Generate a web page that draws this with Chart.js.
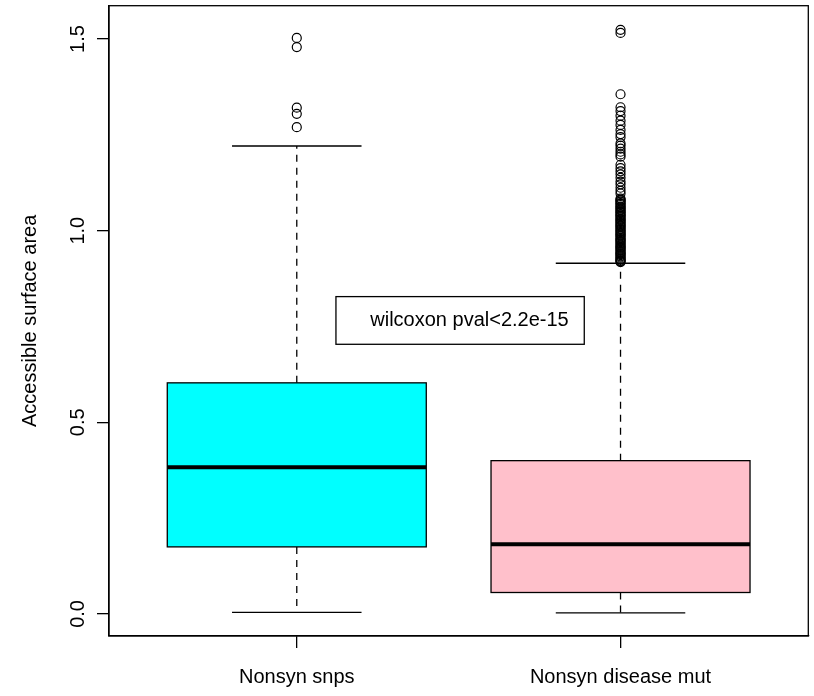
<!DOCTYPE html>
<html>
<head>
<meta charset="utf-8">
<script src="https://cdn.jsdelivr.net/npm/chart.js@4.4.1/dist/chart.umd.min.js"></script>
<style>
  html, body { margin: 0; padding: 0; background: #ffffff; }
  #wrap { width: 814px; height: 696px; }
</style>
</head>
<body>
<div id="wrap"><canvas id="c" width="814" height="696"></canvas></div>
<script>
// Groups and their box statistics
const categories = ['Nonsyn snps', 'Nonsyn disease mut'];
const boxColors = ['#00FFFF', '#FFC0CB'];
const whiskerLow = [0.004, 0.003];
const q1 = [0.175, 0.056];
const median = [0.383, 0.182];
const q3 = [0.603, 0.400];
const whiskerHigh = [1.221, 0.915];

// Points beyond the whiskers
const outliersSnps = [1.503, 1.479, 1.321, 1.305, 1.270];
const outliersDisease = [
  1.524, 1.516, 1.356,
  1.322, 1.312, 1.300, 1.287, 1.276, 1.263, 1.252, 1.244,
  1.228, 1.222, 1.214, 1.206, 1.199, 1.193,
  1.172, 1.163, 1.155, 1.147, 1.138,
  1.128, 1.121, 1.112, 1.104, 1.097,
  1.084, 1.081, 1.079, 1.076, 1.072, 1.070, 1.067, 1.063, 1.061, 1.058,
  1.055, 1.052, 1.049, 1.047, 1.043, 1.040, 1.038, 1.035, 1.031, 1.029,
  1.026, 1.023, 1.020, 1.017, 1.014, 1.011, 1.009, 1.005, 1.002, 0.999,
  0.996, 0.993, 0.990, 0.988, 0.985, 0.981, 0.978, 0.976, 0.973, 0.970,
  0.967, 0.964, 0.961, 0.958, 0.956, 0.953, 0.950, 0.947, 0.944, 0.941,
  0.939, 0.936, 0.933, 0.930, 0.927, 0.925, 0.922, 0.920, 0.918
];

// Axis ticks and texts
const yTicks = [0, 0.5, 1.0, 1.5];
const yTickLabels = ['0.0', '0.5', '1.0', '1.5'];
const yTitle = 'Accessible surface area';
const noteText = 'wilcoxon pval<2.2e-15';

const FONT = '"Liberation Sans", Arial, Helvetica, sans-serif';
const INK = '#000000';

// Box bodies, whiskers, medians, frame, note and rotated y labels
const boxPlot = {
  id: 'boxPlot',
  beforeDatasetsDraw(chart) {
    const { ctx, scales: { x, y } } = chart;
    categories.forEach((_, i) => {
      const c = i + 1;
      const xc = x.getPixelForValue(c);
      const xl = x.getPixelForValue(c - 0.4);
      const xr = x.getPixelForValue(c + 0.4);
      const sl = x.getPixelForValue(c - 0.2);
      const sr = x.getPixelForValue(c + 0.2);
      const yLo = y.getPixelForValue(whiskerLow[i]);
      const yQ1 = y.getPixelForValue(q1[i]);
      const yMed = y.getPixelForValue(median[i]);
      const yQ3 = y.getPixelForValue(q3[i]);
      const yHi = y.getPixelForValue(whiskerHigh[i]);

      ctx.save();
      ctx.strokeStyle = INK;
      ctx.lineWidth = 1.3;

      // dashed whiskers, drawn outward from the hinges
      ctx.setLineDash([7, 6]);
      ctx.beginPath();
      ctx.moveTo(xc, yQ3); ctx.lineTo(xc, yHi);
      ctx.moveTo(xc, yQ1); ctx.lineTo(xc, yLo);
      ctx.stroke();
      ctx.setLineDash([]);

      // staples
      ctx.beginPath();
      ctx.moveTo(sl, yHi); ctx.lineTo(sr, yHi);
      ctx.moveTo(sl, yLo); ctx.lineTo(sr, yLo);
      ctx.stroke();

      // box
      ctx.fillStyle = boxColors[i];
      ctx.fillRect(xl, yQ3, xr - xl, yQ1 - yQ3);
      ctx.strokeRect(xl, yQ3, xr - xl, yQ1 - yQ3);

      // median
      ctx.lineWidth = 4;
      ctx.beginPath();
      ctx.moveTo(xl, yMed); ctx.lineTo(xr, yMed);
      ctx.stroke();
      ctx.restore();
    });
  },
  afterDraw(chart) {
    const { ctx, chartArea: a, scales: { x, y } } = chart;
    ctx.save();
    // frame around the plotting region
    ctx.strokeStyle = INK;
    ctx.lineWidth = 1.3;
    ctx.strokeRect(a.left, a.top, a.right - a.left, a.bottom - a.top);

    // note box
    const nx0 = x.getPixelForValue(1.121), nx1 = x.getPixelForValue(1.888);
    const ny0 = y.getPixelForValue(0.828), ny1 = y.getPixelForValue(0.7036);
    ctx.fillStyle = '#ffffff';
    ctx.fillRect(nx0, ny0, nx1 - nx0, ny1 - ny0);
    ctx.strokeRect(nx0, ny0, nx1 - nx0, ny1 - ny0);
    ctx.fillStyle = INK;
    ctx.font = '20px ' + FONT;
    ctx.textAlign = 'left';
    ctx.textBaseline = 'middle';
    ctx.fillText(noteText, x.getPixelForValue(1.227), (ny0 + ny1) / 2);

    // y tick labels, parallel to the axis
    ctx.textAlign = 'center';
    ctx.textBaseline = 'middle';
    y.ticks.forEach((t, k) => {
      const py = y.getPixelForValue(t.value);
      ctx.save();
      ctx.translate(a.left - 31, py);
      ctx.rotate(-Math.PI / 2);
      ctx.fillText(yTickLabels[k], 0, 0);
      ctx.restore();
    });

    // y axis title
    ctx.save();
    ctx.translate(a.left - 79, (a.top + a.bottom) / 2);
    ctx.rotate(-Math.PI / 2);
    ctx.fillText(yTitle, 0, 0);
    ctx.restore();
    ctx.restore();
  }
};

const pointStyle = {
  pointRadius: 4.5,
  pointHoverRadius: 4.5,
  pointBorderWidth: 1.2,
  pointBackgroundColor: 'rgba(0,0,0,0)',
  pointBorderColor: INK,
  showLine: false
};

new Chart(document.getElementById('c'), {
  type: 'scatter',
  data: {
    datasets: [
      Object.assign({ label: categories[0], data: outliersSnps.map(v => ({ x: 1, y: v })) }, pointStyle),
      Object.assign({ label: categories[1], data: outliersDisease.map(v => ({ x: 2, y: v })) }, pointStyle)
    ]
  },
  options: {
    responsive: false,
    animation: false,
    devicePixelRatio: 1,
    events: [],
    layout: { padding: { top: 5, right: 2.5, left: 0, bottom: 0 } },
    plugins: { legend: { display: false }, tooltip: { enabled: false } },
    scales: {
      x: {
        type: 'linear',
        min: 0.42,
        max: 2.58,
        afterBuildTicks: s => { s.ticks = categories.map((_, i) => ({ value: i + 1 })); },
        afterFit: s => { s.height = 60; },
        ticks: {
          callback: v => categories[v - 1] || '',
          font: { family: FONT, size: 20 },
          color: INK,
          padding: 17,
          minRotation: 0,
          maxRotation: 0,
          autoSkip: false
        },
        grid: { display: true, drawOnChartArea: false, drawTicks: true, tickLength: 12, color: INK, lineWidth: 1.3 },
        border: { display: true, color: INK, width: 1.3 }
      },
      y: {
        min: -0.0575,
        max: 1.587,
        afterBuildTicks: s => { s.ticks = yTicks.map(v => ({ value: v })); },
        afterFit: s => { s.width = 109; },
        ticks: { display: false },
        grid: { display: true, drawOnChartArea: false, drawTicks: true, tickLength: 12, color: INK, lineWidth: 1.3 },
        border: { display: true, color: INK, width: 1.3 }
      }
    }
  },
  plugins: [boxPlot]
});
</script>
</body>
</html>
